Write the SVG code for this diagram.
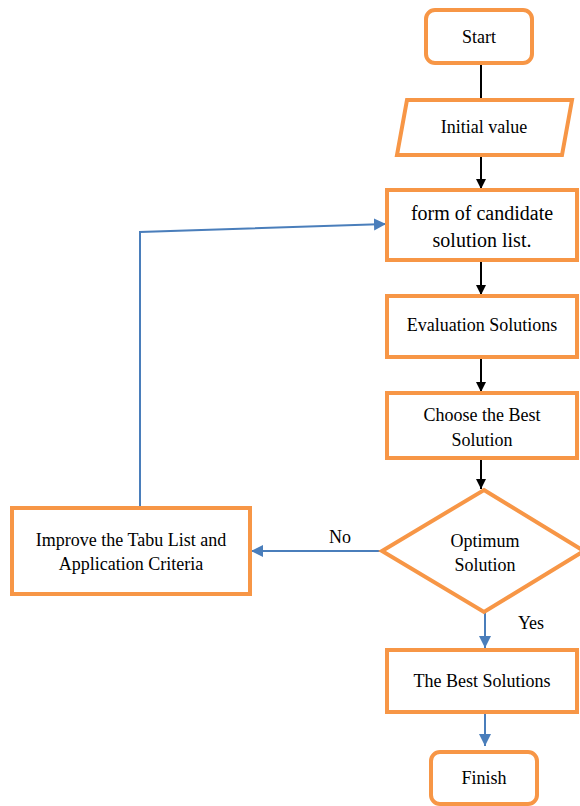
<svg xmlns="http://www.w3.org/2000/svg" width="580" height="806" viewBox="0 0 580 806">
<style>
.n{fill:#fff;stroke:#F79646;stroke-width:4}
text{font-family:'Liberation Serif','DejaVu Serif',serif;font-size:18px;fill:#000;text-anchor:middle}
.big{font-size:20px}
.k{stroke:#000;stroke-width:2;fill:none}
.b{stroke:#4A7EBB;stroke-width:2;fill:none}
</style>
<defs>
<marker id="ak" markerWidth="12" markerHeight="12" refX="10" refY="5" orient="auto" markerUnits="userSpaceOnUse"><path d="M0,0 L10,5 L0,10 Z" fill="#000"/></marker>
<marker id="ab" markerWidth="14" markerHeight="14" refX="12" refY="6" orient="auto" markerUnits="userSpaceOnUse"><path d="M0,0 L12,6 L0,12 Z" fill="#4A7EBB"/></marker>
</defs>
<rect width="580" height="806" fill="#fff"/>
<g id="connectors">
<line class="k" x1="481" y1="64" x2="481" y2="100"/>
<line class="k" x1="481" y1="155" x2="481" y2="189" marker-end="url(#ak)"/>
<line class="k" x1="481" y1="260" x2="481" y2="295" marker-end="url(#ak)"/>
<line class="k" x1="481" y1="357" x2="481" y2="392" marker-end="url(#ak)"/>
<line class="k" x1="481" y1="458" x2="481" y2="489" marker-end="url(#ak)"/>
<line class="b" x1="382" y1="551" x2="251" y2="551" marker-end="url(#ab)"/>
<polyline class="b" points="140,508 140,232 386,224" marker-end="url(#ab)"/>
<line class="b" x1="485" y1="612" x2="485" y2="648" marker-end="url(#ab)"/>
<line class="b" x1="485" y1="712" x2="485" y2="746" marker-end="url(#ab)"/>
<text x="340" y="543">No</text>
<text x="531" y="629">Yes</text>
</g>
<g id="start"><rect class="n" x="426" y="10" width="106" height="53" rx="9"/><text x="479" y="43">Start</text></g>
<g id="initial"><polygon class="n" points="407,100 572,100 562,155 397,155"/><text x="484" y="133">Initial value</text></g>
<g id="candidate"><rect class="n" x="387" y="190" width="190" height="70"/><text class="big" x="482" y="220">form of candidate</text><text class="big" x="482" y="247">solution list.</text></g>
<g id="evaluation"><rect class="n" x="387" y="296" width="190" height="61"/><text x="482" y="331">Evaluation Solutions</text></g>
<g id="choose"><rect class="n" x="387" y="393" width="190" height="65"/><text x="482" y="421">Choose the Best</text><text x="482" y="446">Solution</text></g>
<g id="optimum"><polygon class="n" points="484,490 584,551 484,612 382,551"/><text x="485" y="547">Optimum</text><text x="485" y="571">Solution</text></g>
<g id="improve"><rect class="n" x="12" y="508" width="238" height="86"/><text x="131" y="546">Improve the Tabu List and</text><text x="131" y="570">Application Criteria</text></g>
<g id="best"><rect class="n" x="387" y="650" width="190" height="62"/><text x="482" y="687">The Best Solutions</text></g>
<g id="finish"><rect class="n" x="431" y="752" width="106" height="52" rx="9"/><text x="484" y="784">Finish</text></g>
</svg>
